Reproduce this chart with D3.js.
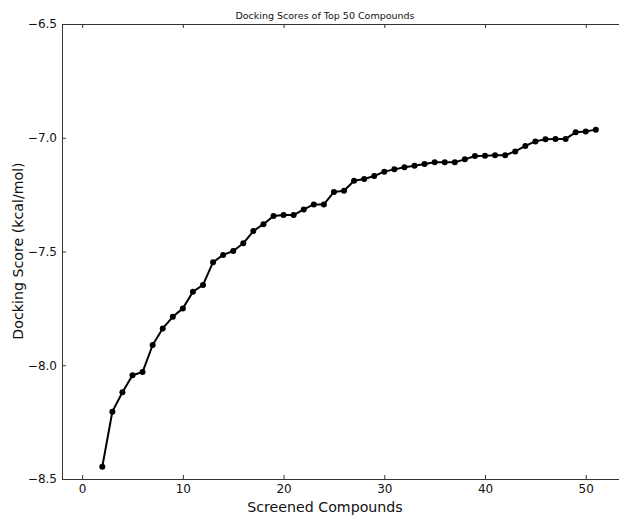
<!DOCTYPE html>
<html>
<head>
<meta charset="utf-8">
<script src="https://cdn.jsdelivr.net/npm/d3@7"></script>
<style>
  body { margin: 0; background: #fff; }
  svg { display: block; font-family: "DejaVu Sans", sans-serif; }
</style>
</head>
<body>
<svg id="chart" width="619" height="515"></svg>
<script>
const compounds = [2,3,4,5,6,7,8,9,10,11,12,13,14,15,16,17,18,19,20,21,22,23,24,25,26,27,28,29,30,31,32,33,34,35,36,37,38,39,40,41,42,43,44,45,46,47,48,49,50,51];
const scores = [-8.446,-8.204,-8.119,-8.044,-8.030,-7.911,-7.838,-7.787,-7.750,-7.677,-7.647,-7.547,-7.515,-7.498,-7.464,-7.410,-7.380,-7.344,-7.340,-7.340,-7.315,-7.293,-7.293,-7.238,-7.233,-7.189,-7.181,-7.168,-7.149,-7.139,-7.130,-7.123,-7.115,-7.108,-7.108,-7.108,-7.095,-7.080,-7.079,-7.077,-7.077,-7.060,-7.036,-7.016,-7.007,-7.005,-7.005,-6.976,-6.972,-6.965];
const xTicks = [0,10,20,30,40,50];
const yTicks = [-8.5,-8.0,-7.5,-7.0,-6.5];
const titleText = "Docking Scores of Top 50 Compounds";
const xLabel = "Screened Compounds";
const yLabel = "Docking Score (kcal/mol)";

(function () {
const svg = d3.select("#chart");
const mLeft = 62, mTop = 24, mBottom = 479, mRight = 622;
const x = d3.scaleLinear().domain([-2, 53.6]).range([mLeft, mRight]);
const y = d3.scaleLinear().domain([-8.5, -6.5]).range([mBottom, mTop]);
const spine = "#333";

svg.append("rect").attr("x", mLeft).attr("y", mTop).attr("width", mRight - mLeft).attr("height", mBottom - mTop)
  .attr("fill", "none").attr("stroke", spine).attr("stroke-width", 1).attr("shape-rendering", "crispEdges");

const fmt = d3.format(".1f");
const xb = svg.append("g").attr("transform", `translate(0,${mBottom})`)
  .call(d3.axisBottom(x).tickValues(xTicks).tickSizeInner(-4).tickSizeOuter(0).tickPadding(5).tickFormat(d3.format("d")));
const xt = svg.append("g").attr("transform", `translate(0,${mTop})`)
  .call(d3.axisTop(x).tickValues(xTicks).tickSizeInner(-4).tickSizeOuter(0).tickFormat(""));
const yl = svg.append("g").attr("transform", `translate(${mLeft},0)`)
  .call(d3.axisLeft(y).tickValues(yTicks).tickSizeInner(-4).tickSizeOuter(0).tickPadding(5).tickFormat(fmt));

[xb, xt, yl].forEach(g => {
  g.select(".domain").remove();
  g.selectAll(".tick line").attr("stroke", spine);
  g.selectAll(".tick text").attr("fill", "#111").attr("font-size", "12px").attr("font-family", "DejaVu Sans, sans-serif");
});

const line = d3.line().x((d, i) => x(compounds[i])).y(d => y(d));
svg.append("path").datum(scores).attr("d", line)
  .attr("fill", "none").attr("stroke", "#000").attr("stroke-width", 2).attr("stroke-linejoin", "round");
svg.append("g").selectAll("circle").data(scores).join("circle")
  .attr("cx", (d, i) => x(compounds[i])).attr("cy", d => y(d)).attr("r", 3).attr("fill", "#000");

svg.append("text").attr("x", 325).attr("y", 19).attr("text-anchor", "middle")
  .attr("font-size", "9.5px").attr("fill", "#111").text(titleText);
svg.append("text").attr("x", 325).attr("y", 512).attr("text-anchor", "middle")
  .attr("font-size", "14.2px").attr("fill", "#111").text(xLabel);
svg.append("text").attr("transform", "translate(23,251) rotate(-90)").attr("text-anchor", "middle")
  .attr("font-size", "14.2px").attr("fill", "#111").text(yLabel);
})();
</script>
</body>
</html>
